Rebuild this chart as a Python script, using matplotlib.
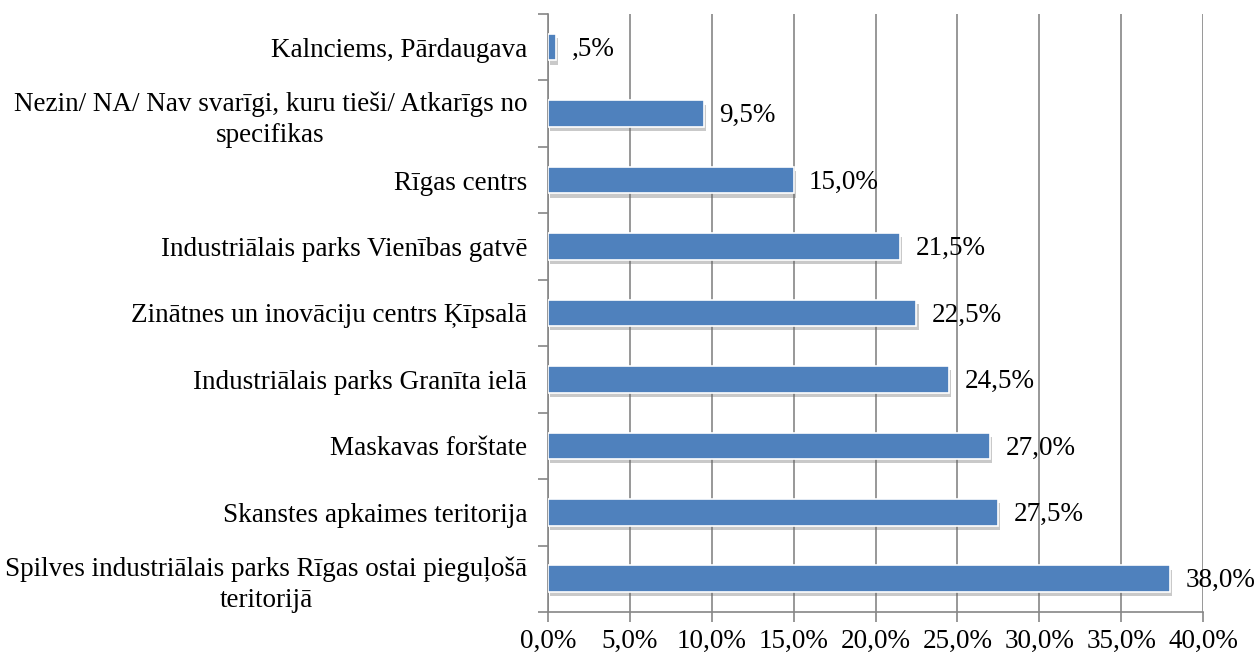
import matplotlib.pyplot as plt
import matplotlib.patheffects as pe
from matplotlib.ticker import MultipleLocator, FuncFormatter

plt.rcParams['font.family'] = ['Liberation Serif', 'DejaVu Serif']

categories = [
    "Spilves industriālais parks Rīgas ostai pieguļošā\nteritorijā",
    "Skanstes apkaimes teritorija",
    "Maskavas forštate",
    "Industriālais parks Granīta ielā",
    "Zinātnes un inovāciju centrs Ķīpsalā",
    "Industriālais parks Vienības gatvē",
    "Rīgas centrs",
    "Nezin/ NA/ Nav svarīgi, kuru tieši/ Atkarīgs no\nspecifikas",
    "Kalnciems, Pārdaugava",
]
values = [38.0, 27.5, 27.0, 24.5, 22.5, 21.5, 15.0, 9.5, 0.5]


def pct(v):
    s = f"{v:.1f}".replace(".", ",")
    if s.startswith("0,") and v > 0:
        s = s[1:]
    return s + "%"


fig = plt.figure(figsize=(12.55, 6.56), dpi=100)
ax = fig.add_axes([0.4367, 0.0671, 0.5219, 0.9116])

pos = range(len(categories))
bars = ax.barh(pos, values, height=0.4, color="#4F81BD", edgecolor="white",
               linewidth=1.2, zorder=3)
for b in bars:
    b.set_path_effects([pe.SimplePatchShadow(offset=(1.5, -3), shadow_rgbFace="#666666", alpha=0.35),
                        pe.Normal()])

for p, v in zip(pos, values):
    ax.annotate(pct(v), (v, p), xytext=(11, -1.5), textcoords="offset points",
                va="center", ha="left", fontsize=19.5, zorder=4)

ax.set_xlim(0, 40)
ax.set_ylim(-0.5, len(categories) - 0.5)
ax.xaxis.set_major_locator(MultipleLocator(5))
ax.xaxis.set_major_formatter(FuncFormatter(lambda x, _: f"{x:.1f}".replace(".", ",") + "%"))
ax.grid(axis="x", color="#868686", linewidth=1.2, zorder=0)

ax.set_yticks(list(pos))
ax.set_yticklabels(categories, fontsize=19.5, multialignment="center", linespacing=1.3)
ax.set_yticks([i - 0.5 for i in range(len(categories) + 1)], minor=True)
ax.tick_params(axis="y", which="major", length=0, pad=15)
ax.tick_params(axis="y", which="minor", length=7, color="#868686", width=1.2)
ax.tick_params(axis="x", length=7, color="#868686", width=1.2, labelsize=19.5, pad=5)

for s in ["top", "right"]:
    ax.spines[s].set_visible(False)
for s in ["left", "bottom"]:
    ax.spines[s].set_color("#868686")
    ax.spines[s].set_linewidth(1.2)

fig.savefig("out.png", dpi=100)
